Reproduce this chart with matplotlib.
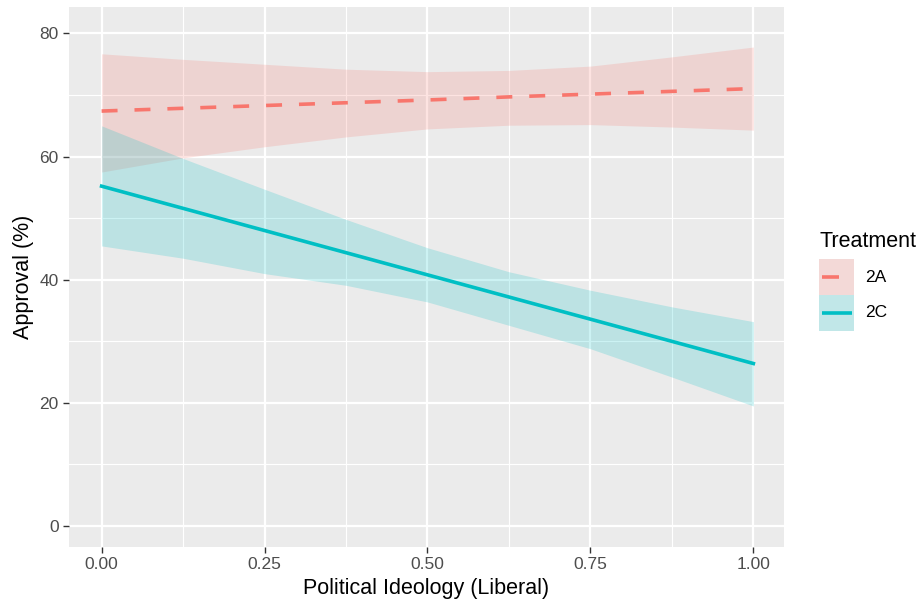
import numpy as np
import matplotlib
matplotlib.use('Agg')
import matplotlib.pyplot as plt
from matplotlib.patches import Rectangle
from matplotlib.lines import Line2D

ideology = [0.0, 0.125, 0.25, 0.375, 0.5, 0.625, 0.75, 0.875, 1.0]

fit_2a = [67.4, 67.85, 68.3, 68.75, 69.2, 69.7, 70.15, 70.6, 71.05]
upper_2a = [76.7, 75.8, 75.0, 74.2, 73.8, 74.0, 74.7, 76.2, 77.8]
lower_2a = [57.5, 59.8, 61.6, 63.2, 64.5, 65.1, 65.2, 64.8, 64.3]

fit_2c = [55.2, 51.6, 48.0, 44.4, 40.8, 37.2, 33.6, 30.0, 26.4]
upper_2c = [65.0, 59.7, 54.7, 49.8, 45.2, 41.3, 38.3, 35.6, 33.2]
lower_2c = [45.5, 43.5, 41.0, 39.1, 36.4, 32.6, 28.8, 24.2, 19.5]

groups = ['2A', '2C']
colors = {'2A': '#F8766D', '2C': '#00BFC4'}

x_ticks = [0.0, 0.25, 0.5, 0.75, 1.0]
x_labels = ['0.00', '0.25', '0.50', '0.75', '1.00']
y_ticks = [0, 20, 40, 60, 80]

W, H = 923, 613

plt.rcParams['font.family'] = ['Liberation Sans', 'DejaVu Sans']
plt.rcParams['lines.scale_dashes'] = False

fig = plt.figure(figsize=(W / 100, H / 100), dpi=100)
ax = fig.add_axes([69 / W, 66 / H, 715 / W, 540 / H])
ax.set_facecolor('#EBEBEB')

# grid, ggplot style
for v in [0.125, 0.375, 0.625, 0.875]:
    ax.axvline(v, color='white', lw=0.8, zorder=0)
for v in [10, 30, 50, 70]:
    ax.axhline(v, color='white', lw=0.8, zorder=0)
for v in x_ticks:
    ax.axvline(v, color='white', lw=1.6, zorder=0)
for v in y_ticks:
    ax.axhline(v, color='white', lw=1.6, zorder=0)

x = np.array(ideology)
ax.fill_between(x, lower_2a, upper_2a, color=colors['2A'], alpha=0.2, lw=0, zorder=1)
ax.fill_between(x, lower_2c, upper_2c, color=colors['2C'], alpha=0.2, lw=0, zorder=1)
ax.plot(x, fit_2a, color=colors['2A'], lw=2.6, dashes=(11.5, 12.2), zorder=2,
        dash_capstyle='butt')
ax.plot(x, fit_2c, color=colors['2C'], lw=2.6, zorder=2)

ax.set_xlim(-0.05, 1.047)
ax.set_ylim(-3.4, 84.3)
ax.set_xticks(x_ticks)
ax.set_xticklabels(x_labels)
ax.set_yticks(y_ticks)
for s in ax.spines.values():
    s.set_visible(False)
ax.tick_params(length=4.5, width=1.0, color='#333333', labelcolor='#4D4D4D',
               labelsize=12.5, pad=3)
ax.set_xlabel('Political Ideology (Liberal)', fontsize=15.5, labelpad=4)
ax.set_ylabel('Approval (%)', fontsize=15.5, labelpad=4)


# legend drawn by hand so the keys look like ggplot's
def fx(px):
    return px / W


def fy(py):
    return 1 - py / H


fig.text(fx(819), fy(242), 'Treatment', fontsize=15.5, va='center', ha='left')
key_top = 259
key_h = 36
for i, g in enumerate(groups):
    top = key_top + i * key_h
    fig.add_artist(Rectangle((fx(819), fy(top + key_h)), fx(35), key_h / H,
                             facecolor='#F2F2F2', lw=0, transform=fig.transFigure))
    fig.add_artist(Rectangle((fx(819), fy(top + key_h)), fx(35), key_h / H,
                             facecolor=colors[g], alpha=0.2, lw=0, transform=fig.transFigure))
    yc = fy(top + key_h / 2)
    x_end = 838.5 if g == '2A' else 852
    fig.add_artist(Line2D([fx(821.5), fx(x_end)], [yc, yc], color=colors[g], lw=2.6,
                          solid_capstyle='butt', transform=fig.transFigure))
    fig.text(fx(865), yc, g, fontsize=12.5, va='center', ha='left')

fig.savefig('out.png', dpi=100)
